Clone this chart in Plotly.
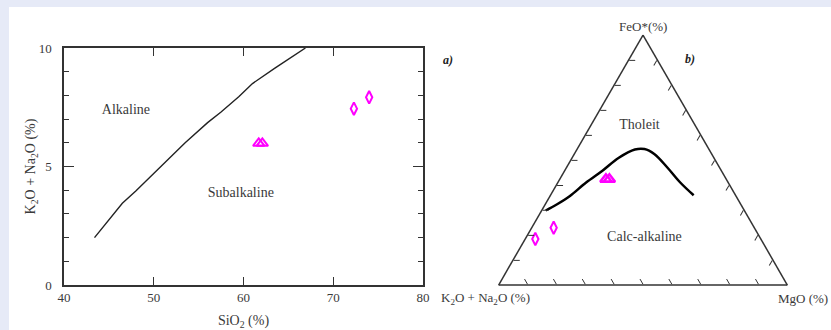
import plotly.graph_objects as go

W, H = 831, 330

# ---- panel a) TAS-like diagram ----
boundary_sio2 = [43.4, 45.0, 46.5, 48.0, 51.0, 53.5, 56.0, 57.5, 59.5, 61.0, 63.5, 66.9]
boundary_alk = [2.0, 2.75, 3.45, 3.97, 5.1, 6.0, 6.85, 7.3, 7.95, 8.5, 9.15, 10.0]

tri_sio2 = [61.7, 62.1]
tri_alk = [5.98, 5.98]
dia_sio2 = [72.3, 74.0]
dia_alk = [7.44, 7.92]

region_a_text = ["Alkaline", "Subalkaline"]
region_a_x = [46.9, 59.7]
region_a_y = [7.38, 3.87]

x_ticks = [40, 50, 60, 70, 80]
y_ticks = [0, 5, 10]

# ---- panel b) AFM ternary ----
curve_feo = [0.298, 0.323, 0.356, 0.410, 0.457, 0.508, 0.542, 0.544, 0.524, 0.471, 0.410, 0.359]
curve_mgo = [0.014, 0.041, 0.069, 0.098, 0.131, 0.161, 0.201, 0.233, 0.277, 0.348, 0.424, 0.496]

tri_feo = [0.423, 0.423]
tri_mgo = [0.160, 0.172]
dia_feo = [0.229, 0.184]
dia_mgo = [0.076, 0.035]

region_b_text = ["Tholeit", "Calc-alkaline"]
region_b_feo = [0.638, 0.192]
region_b_mgo = [0.169, 0.409]

SERIF = "Liberation Serif"
MAG = "#ff00ff"
TXT = "#3a3a3a"

fig = go.Figure()

fig.add_trace(go.Scatter(x=boundary_sio2, y=boundary_alk, mode="lines",
                         line=dict(color="#222222", width=1.4),
                         showlegend=False, hoverinfo="skip"))
fig.add_trace(go.Scatter(x=tri_sio2, y=tri_alk, mode="markers",
                         marker=dict(symbol="triangle-up-open", size=10, color=MAG,
                                     line=dict(width=2, color=MAG)),
                         showlegend=False))
fig.add_trace(go.Scatter(x=dia_sio2, y=dia_alk, mode="markers",
                         marker=dict(symbol="diamond-tall-open", size=9, color=MAG,
                                     line=dict(width=2, color=MAG)),
                         showlegend=False))
fig.add_trace(go.Scatter(x=region_a_x, y=region_a_y, mode="text", text=region_a_text,
                         textfont=dict(family=SERIF, size=14, color=TXT),
                         showlegend=False, hoverinfo="skip"))

fig.add_trace(go.Scatterternary(a=curve_feo, c=curve_mgo, mode="lines",
                                line=dict(color="black", width=2.5, shape="spline"),
                                showlegend=False, hoverinfo="skip"))
fig.add_trace(go.Scatterternary(a=tri_feo, c=tri_mgo, mode="markers",
                                marker=dict(symbol="triangle-up-open", size=10, color=MAG,
                                            line=dict(width=2.5, color=MAG)),
                                showlegend=False))
fig.add_trace(go.Scatterternary(a=dia_feo, c=dia_mgo, mode="markers",
                                marker=dict(symbol="diamond-tall-open", size=9, color=MAG,
                                            line=dict(width=2, color=MAG)),
                                showlegend=False))
fig.add_trace(go.Scatterternary(a=region_b_feo, c=region_b_mgo, mode="text", text=region_b_text,
                                textfont=dict(family=SERIF, size=14, color=TXT),
                                showlegend=False, hoverinfo="skip"))

axis_line = dict(showline=True, linecolor="#333333", linewidth=1.5, mirror="ticks",
                 showgrid=False, zeroline=False, tickcolor="#333333", automargin=False,
                 tickfont=dict(family=SERIF, size=13, color=TXT))

tern_axis = dict(linecolor="#333333", linewidth=1.5, showgrid=False, showticklabels=False,
                 ticks="inside", ticklen=6, dtick=0.1, tickcolor="#333333",
                 title=dict(text=""))


def label(text, px, py, size=13, color=TXT):
    return dict(text=text, xref="paper", yref="paper", x=px / W, y=1 - py / H,
                xanchor="center", yanchor="middle", showarrow=False,
                font=dict(family=SERIF, size=size, color=color))


fig.update_layout(
    width=W, height=H,
    margin=dict(l=0, r=0, t=0, b=0, autoexpand=False),
    paper_bgcolor="#e6eaf7",
    plot_bgcolor="white",
    font=dict(family=SERIF, color=TXT),
    xaxis=dict(domain=[64 / W, 423 / W], range=[40, 80], tickvals=x_ticks,
               ticks="inside", ticklen=8,
               title=dict(text="SiO<sub>2</sub> (%)", font=dict(family=SERIF, size=14, color=TXT),
                          standoff=12),
               **axis_line),
    yaxis=dict(domain=[1 - 285 / H, 1 - 48 / H], range=[0, 10], tickvals=y_ticks,
               ticks="inside", ticklen=10, ticklabelstandoff=8,
               minor=dict(dtick=1, ticks="inside", ticklen=5, tickcolor="#333333", showgrid=False),
               title=dict(text="K<sub>2</sub>O + Na<sub>2</sub>O (%)",
                          font=dict(family=SERIF, size=14, color=TXT), standoff=0),
               **axis_line),
    ternary=dict(
        domain=dict(x=[498.5 / W, 787.5 / W], y=[1 - 285 / H, 1 - 35 / H]),
        sum=1,
        bgcolor="white",
        aaxis=tern_axis,
        baxis=tern_axis,
        caxis=tern_axis,
    ),
    shapes=[dict(type="rect", xref="paper", yref="paper", x0=9 / W, x1=1, y0=0, y1=1 - 7 / H,
                 fillcolor="white", line=dict(width=0), layer="below")],
    annotations=[
        label("FeO*(%)", 643, 27),
        label("K<sub>2</sub>O + Na<sub>2</sub>O (%)", 485, 298),
        label("MgO (%)", 803, 298),
        label("<b><i>a)</i></b>", 448, 60, 12, "#222222"),
        label("<b><i>b)</i></b>", 690, 59, 12, "#222222"),
    ],
)

fig.write_html("out.html")
